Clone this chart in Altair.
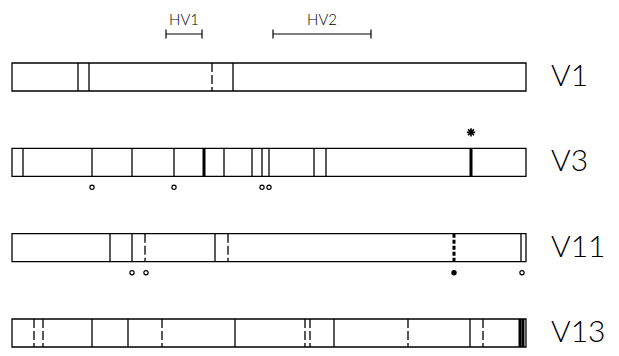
import altair as alt
import pandas as pd

# ---- data (positions in nucleotides along the gene) ----
rows = ["V1", "V3", "V11", "V13"]
seq_length = 1542

v1_pos = [198, 231, 600, 663]
v1_style = ["solid", "solid", "dashed", "solid"]

v3_pos = [33, 240, 360, 486, 576, 636, 720, 750, 771, 906, 942, 1377]
v3_style = ["solid", "solid", "solid", "solid", "thick", "solid",
            "solid", "solid", "solid", "solid", "solid", "thick"]

v11_pos = [294, 360, 399, 609, 648, 1326, 1527]
v11_style = ["solid", "solid", "dashed", "solid", "dashed", "thickdash", "solid"]

v13_pos = [66, 93, 240, 348, 450, 669, 879, 894, 966, 1188, 1374, 1413, 1524, 1533]
v13_style = ["dashed", "dashed", "solid", "solid", "dashed", "solid", "dashed",
             "dashed", "solid", "dashed", "solid", "dashed", "thick", "thick"]

circle_row = ["V3", "V3", "V3", "V3", "V11", "V11", "V11", "V11", "V13", "V13", "V13"]
circle_pos = [240, 486, 750, 771, 360, 402, 1326, 1530, 93, 243, 894]
circle_kind = ["open", "open", "open", "open", "open", "open", "filled", "open",
               "open", "open", "open"]

star_row = ["V3"]
star_pos = [1377]

hv_names = ["HV1", "HV2"]
hv_start = [462, 783]
hv_end = [570, 1077]

# ---- tables ----
idx = {r: i for i, r in enumerate(rows)}
bars = pd.DataFrame({"row": rows, "ri": list(range(len(rows))),
                     "start": [0] * len(rows), "end": [seq_length] * len(rows)})

site_rows, site_pos, site_style = [], [], []
for r, p, s in [("V1", v1_pos, v1_style), ("V3", v3_pos, v3_style),
                ("V11", v11_pos, v11_style), ("V13", v13_pos, v13_style)]:
    site_rows += [r] * len(p)
    site_pos += p
    site_style += s
sites = pd.DataFrame({"row": site_rows, "ri": [idx[r] for r in site_rows],
                      "pos": site_pos, "style": site_style})

circles = pd.DataFrame({"ri": [idx[r] for r in circle_row], "pos": circle_pos,
                        "kind": circle_kind})
stars = pd.DataFrame({"ri": [idx[r] for r in star_row], "pos": star_pos})
hv = pd.DataFrame({"name": hv_names, "start": hv_start, "end": hv_end,
                   "mid": [(a + b) / 2 for a, b in zip(hv_start, hv_end)],
                   "ri": [0] * len(hv_names)})
hv_ticks = pd.DataFrame({"pos": hv_start + hv_end, "ri": [0] * (2 * len(hv_names))})

# ---- scales ----
W, H = 603, 340
xs = alt.Scale(domain=[-12, -12 + W * 3], nice=False, zero=False)
row_px = 85.33
top = 69
ys = alt.Scale(domain=[-top / row_px, (H - top) / row_px], reverse=True,
               nice=False, zero=False)
X = lambda f: alt.X(f, scale=xs, axis=None)
Y = lambda f: alt.Y(f, scale=ys, axis=None)

half = 14

bar_layer = alt.Chart(bars).mark_rect(
    fill="white", stroke="black", strokeWidth=1.3, yOffset=-half, y2Offset=half
).encode(x=X("start:Q"), x2="end:Q", y=Y("ri:Q"), y2="ri:Q")


def site_rules(style, width, dash):
    return alt.Chart(sites).transform_filter(
        alt.datum.style == style
    ).mark_rule(
        color="black", yOffset=-half, y2Offset=half, strokeWidth=width, strokeDash=dash
    ).encode(x=X("pos:Q"), y=Y("ri:Q"), y2="ri:Q")


site_layers = [
    site_rules("solid", 1.3, [1, 0]),
    site_rules("dashed", 1.3, [9, 3]),
    site_rules("thick", 3, [1, 0]),
    site_rules("thickdash", 3, [4, 2]),
]

circle_layer = alt.Chart(circles).mark_point(
    shape="circle", size=18, stroke="black", strokeWidth=1.2, opacity=1, yOffset=25
).encode(
    x=X("pos:Q"), y=Y("ri:Q"),
    fill=alt.Fill("kind:N", scale=alt.Scale(domain=["open", "filled"],
                                            range=["white", "black"]), legend=None),
)

star_path = "M-1,0L1,0M0,-1L0,1M-0.7,-0.7L0.7,0.7M-0.7,0.7L0.7,-0.7"
star_layer = alt.Chart(stars).mark_point(
    shape=star_path, size=70, stroke="black", strokeWidth=1.6, filled=False, opacity=1,
    yOffset=-30
).encode(x=X("pos:Q"), y=Y("ri:Q"))

hv_line = alt.Chart(hv).mark_rule(color="black", strokeWidth=1.2, yOffset=-43, y2Offset=-43).encode(
    x=X("start:Q"), x2="end:Q", y=Y("ri:Q"), y2="ri:Q")
hv_tick = alt.Chart(hv_ticks).mark_rule(color="black", strokeWidth=1.2,
                                        yOffset=-47.5, y2Offset=-38.5).encode(
    x=X("pos:Q"), y=Y("ri:Q"), y2="ri:Q")
hv_text = alt.Chart(hv).mark_text(
    font="Lato", fontSize=15, fontWeight=300, baseline="alphabetic",
    align="center", dy=-52, color="black"
).encode(x=X("mid:Q"), y=Y("ri:Q"), text="name:N")

label_layer = alt.Chart(bars).mark_text(
    font="Lato", fontSize=30, fontWeight=300, align="left",
    baseline="alphabetic", dx=25, dy=9, color="black"
).encode(x=X("end:Q"), y=Y("ri:Q"), text="row:N")

chart = alt.layer(
    bar_layer, *site_layers, circle_layer, star_layer, hv_line, hv_tick, hv_text, label_layer
).properties(
    width=W, height=H, autosize=alt.AutoSizeParams(type="none"), padding=0,
    background="white"
).configure_view(stroke=None)

chart.save("out.html", embed_options={"renderer": "svg", "actions": False})
